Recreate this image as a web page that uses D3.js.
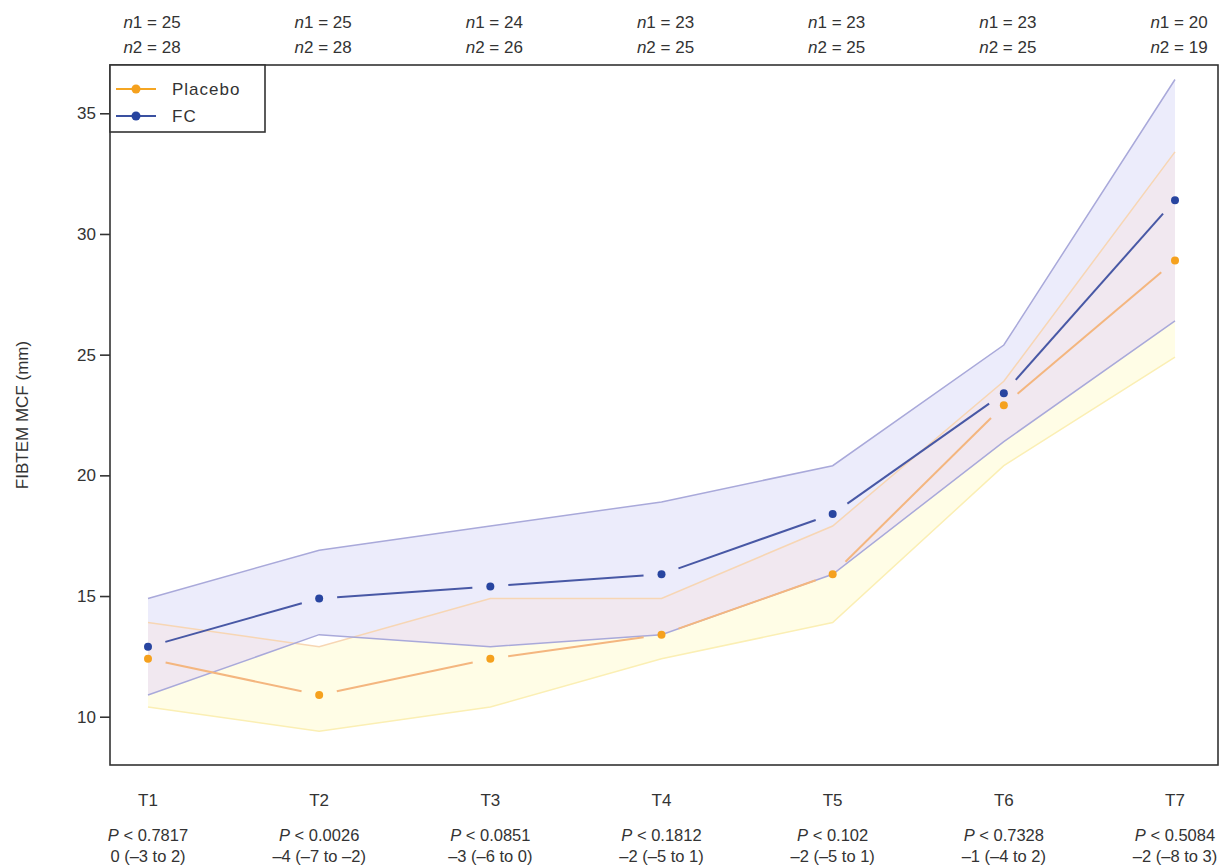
<!DOCTYPE html>
<html>
<head>
<meta charset="utf-8">
<script src="https://cdn.jsdelivr.net/npm/d3@7"></script>
<style>
	body { margin: 0; background: #fff; }
	text { font-family: "Liberation Sans", Arial, sans-serif; fill: #333; }
</style>
</head>
<body>
<div id="chart"></div>
<script>
/* DATA */

const timepoints = ["T1", "T2", "T3", "T4", "T5", "T6", "T7"];
const placeboMean = [12.4, 10.9, 12.4, 13.4, 15.9, 22.9, 28.9];
const placeboLower = [10.4, 9.4, 10.4, 12.4, 13.9, 20.4, 24.9];
const placeboUpper = [13.9, 12.9, 14.9, 14.9, 17.9, 23.9, 33.4];
const fcMean = [12.9, 14.9, 15.4, 15.9, 18.4, 23.4, 31.4];
const fcLower = [10.9, 13.4, 12.9, 13.4, 15.9, 21.4, 26.4];
const fcUpper = [14.9, 16.9, 17.9, 18.9, 20.4, 25.4, 36.4];
const n1 = [25, 25, 24, 23, 23, 23, 20];
const n2 = [28, 28, 26, 25, 25, 25, 19];
const pValues = ["0.7817", "0.0026", "0.0851", "0.1812", "0.102", "0.7328", "0.5084"];
const diffs = ["0 (\u20133 to 2)", "\u20134 (\u20137 to \u20132)", "\u20133 (\u20136 to 0)", "\u20132 (\u20135 to 1)",
	"\u20132 (\u20135 to 1)", "\u20131 (\u20134 to 2)", "\u20132 (\u20138 to 3)"];
const yTicks = [10, 15, 20, 25, 30, 35];

/* SET UP */

const w = 1224;
const h = 868;
const frame = { left: 110, top: 65, right: 1218, bottom: 765 };

const svg = d3.select("#chart").append("svg").attr("width", w).attr("height", h);

const x = d3.scalePoint().domain(timepoints).range([148, 1175]);
const y = d3.scaleLinear().domain([8, 37]).range([frame.bottom, frame.top]);

// bands
function bandArea(lower, upper) {
	return d3.area()
		.x((d, i) => x(timepoints[i]))
		.y0((d, i) => y(lower[i]))
		.y1((d, i) => y(upper[i]))(timepoints);
}
const edge = (vals) => d3.line().x((d, i) => x(timepoints[i])).y((d) => y(d))(vals);

svg.append("clipPath").attr("id", "fc-clip")
	.append("path").attr("d", bandArea(fcLower, fcUpper));

svg.append("path").attr("d", bandArea(placeboLower, placeboUpper)).attr("fill", "#fffde6");
svg.append("path").attr("d", bandArea(fcLower, fcUpper)).attr("fill", "#ececfb");
// overlap of the two bands
svg.append("path").attr("d", bandArea(placeboLower, placeboUpper))
	.attr("clip-path", "url(#fc-clip)").attr("fill", "#f1e8f0");

svg.append("path").attr("d", edge(placeboLower)).attr("fill", "none").attr("stroke", "#fbefb4").attr("stroke-width", 1.5);
svg.append("path").attr("d", edge(placeboUpper)).attr("fill", "none").attr("stroke", "#f7d6b4").attr("stroke-width", 1.5);
svg.append("path").attr("d", edge(fcLower)).attr("fill", "none").attr("stroke", "#a9a9da").attr("stroke-width", 1.5);
svg.append("path").attr("d", edge(fcUpper)).attr("fill", "none").attr("stroke", "#a9a9da").attr("stroke-width", 1.5);

// mean lines with gaps near the points
const gap = 18;
function segments(vals) {
	const pts = vals.map((v, i) => [x(timepoints[i]), y(v)]);
	return d3.pairs(pts).map(([a, b]) => {
		const dx = b[0] - a[0], dy = b[1] - a[1];
		const len = Math.hypot(dx, dy);
		const ux = dx / len, uy = dy / len;
		return [a[0] + ux * gap, a[1] + uy * gap, b[0] - ux * gap, b[1] - uy * gap];
	});
}

svg.selectAll(".seg-placebo")
	.data(segments(placeboMean))
	.join("line")
	.attr("class", "seg-placebo")
	.attr("x1", (d) => d[0]).attr("y1", (d) => d[1])
	.attr("x2", (d) => d[2]).attr("y2", (d) => d[3])
	.attr("stroke", "#f4b67f").attr("stroke-width", 2);

svg.selectAll(".seg-fc")
	.data(segments(fcMean))
	.join("line")
	.attr("class", "seg-fc")
	.attr("x1", (d) => d[0]).attr("y1", (d) => d[1])
	.attr("x2", (d) => d[2]).attr("y2", (d) => d[3])
	.attr("stroke", "#4858a5").attr("stroke-width", 2);

svg.selectAll(".pt-placebo")
	.data(placeboMean)
	.join("circle")
	.attr("class", "pt-placebo")
	.attr("cx", (d, i) => x(timepoints[i]))
	.attr("cy", (d) => y(d))
	.attr("r", 4)
	.attr("fill", "#f5a11e");

svg.selectAll(".pt-fc")
	.data(fcMean)
	.join("circle")
	.attr("class", "pt-fc")
	.attr("cx", (d, i) => x(timepoints[i]))
	.attr("cy", (d) => y(d))
	.attr("r", 4)
	.attr("fill", "#2845a0");

// frame
svg.append("rect")
	.attr("x", frame.left).attr("y", frame.top)
	.attr("width", frame.right - frame.left).attr("height", frame.bottom - frame.top)
	.attr("fill", "none").attr("stroke", "#333").attr("stroke-width", 1.6);

// y axis
const yAxis = svg.append("g")
	.attr("transform", `translate(${frame.left},0)`)
	.call(d3.axisLeft(y).tickValues(yTicks).tickSize(10).tickPadding(4));
yAxis.select(".domain").remove();
yAxis.selectAll(".tick line").attr("stroke", "#333").attr("stroke-width", 1.6);
yAxis.selectAll(".tick text").style("font-size", "17px").attr("fill", "#333");

svg.append("text")
	.attr("transform", `translate(28,${(frame.top + frame.bottom) / 2}) rotate(-90)`)
	.attr("text-anchor", "middle")
	.style("font-size", "17px")
	.text("FIBTEM MCF (mm)");

// n counts on top
const nTop = svg.selectAll(".n1").data(n1).join("text")
	.attr("class", "n1")
	.attr("x", (d, i) => x(timepoints[i]) + 4)
	.attr("y", 28)
	.attr("text-anchor", "middle")
	.style("font-size", "17px");
nTop.append("tspan").style("font-style", "italic").text("n");
nTop.append("tspan").text((d) => "1 = " + d);

const nBot = svg.selectAll(".n2").data(n2).join("text")
	.attr("class", "n2")
	.attr("x", (d, i) => x(timepoints[i]) + 4)
	.attr("y", 53)
	.attr("text-anchor", "middle")
	.style("font-size", "17px");
nBot.append("tspan").style("font-style", "italic").text("n");
nBot.append("tspan").text((d) => "2 = " + d);

// x labels and stats
svg.selectAll(".tlabel").data(timepoints).join("text")
	.attr("class", "tlabel")
	.attr("x", (d) => x(d))
	.attr("y", 806)
	.attr("text-anchor", "middle")
	.style("font-size", "17px")
	.text((d) => d);

const pText = svg.selectAll(".pval").data(pValues).join("text")
	.attr("class", "pval")
	.attr("x", (d, i) => x(timepoints[i]))
	.attr("y", 841)
	.attr("text-anchor", "middle")
	.style("font-size", "16.5px");
pText.append("tspan").style("font-style", "italic").text("P");
pText.append("tspan").text((d) => " < " + d);

svg.selectAll(".diff").data(diffs).join("text")
	.attr("class", "diff")
	.attr("x", (d, i) => x(timepoints[i]))
	.attr("y", 862)
	.attr("text-anchor", "middle")
	.style("font-size", "16.5px")
	.text((d) => d);

// legend
const legend = svg.append("g");
legend.append("rect")
	.attr("x", frame.left).attr("y", frame.top)
	.attr("width", 155).attr("height", 67)
	.attr("fill", "#fff").attr("stroke", "#333").attr("stroke-width", 1.6);

const legendItems = [
	{ name: "Placebo", line: "#f5a623", dot: "#f5a11e", y: 89 },
	{ name: "FC", line: "#3a50a0", dot: "#2845a0", y: 116 },
];
legendItems.forEach((d) => {
	legend.append("line")
		.attr("x1", 116).attr("x2", 156).attr("y1", d.y).attr("y2", d.y)
		.attr("stroke", d.line).attr("stroke-width", 2);
	legend.append("circle").attr("cx", 136).attr("cy", d.y).attr("r", 4.5).attr("fill", d.dot);
	legend.append("text")
		.attr("x", 172).attr("y", d.y + 6)
		.style("font-size", "17px")
		.style("letter-spacing", "1px")
		.text(d.name);
});
</script>
</body>
</html>
